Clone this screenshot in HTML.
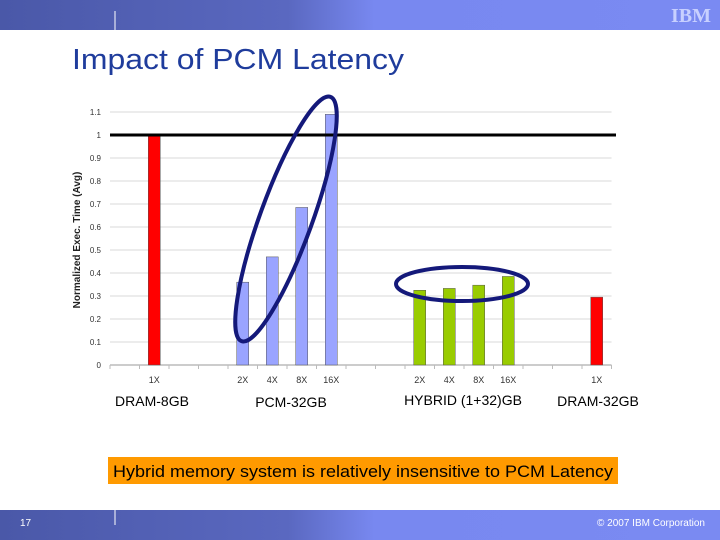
<!DOCTYPE html>
<html><head><meta charset="utf-8"><style>
body{margin:0;width:720px;height:540px;overflow:hidden;background:#fff;font-family:"Liberation Sans",sans-serif}
svg{display:block}
</style></head><body>
<svg id="s" width="720" height="540" xmlns="http://www.w3.org/2000/svg">
<defs>
<linearGradient id="hg" x1="0" x2="1"><stop offset="0" stop-color="#4a58a8"/><stop offset="0.4" stop-color="#5a68c0"/><stop offset="0.52" stop-color="#7888f0"/><stop offset="1" stop-color="#7a8af2"/></linearGradient>
</defs>
<rect x="0" y="0" width="720" height="30" fill="url(#hg)"/>
<line x1="115" y1="11" x2="115" y2="30" stroke="#fff" stroke-width="1"/>
<text x="691" y="22" font-size="20" font-weight="bold" fill="#c8d0ff" text-anchor="middle" font-family="Liberation Serif,serif">IBM</text>
<text x="72" y="69" font-size="29" fill="#1f3c9c" textLength="332" lengthAdjust="spacingAndGlyphs">Impact of PCM Latency</text>
<g id="chart"></g>
<text x="152" y="406" font-size="14" text-anchor="middle">DRAM-8GB</text>
<text x="291" y="407" font-size="14" text-anchor="middle">PCM-32GB</text>
<text x="463" y="405" font-size="14" text-anchor="middle">HYBRID (1+32)GB</text>
<text x="598" y="406" font-size="14" text-anchor="middle">DRAM-32GB</text>
<rect x="108" y="457" width="510" height="27" fill="#ff9a00"/>
<text x="113" y="477" font-size="17" fill="#000" textLength="500" lengthAdjust="spacingAndGlyphs">Hybrid memory system is relatively insensitive to PCM Latency</text>
<rect x="0" y="510" width="720" height="30" fill="url(#hg)"/>
<line x1="115" y1="510" x2="115" y2="525" stroke="#fff"/>
<text x="20" y="526" font-size="10" fill="#fff">17</text>
<text x="705" y="526" font-size="10" fill="#fff" text-anchor="end">© 2007 IBM Corporation</text>
</svg>
<script>
const slotLabels=["","1X","","","2X","4X","8X","16X","","","2X","4X","8X","16X","","","1X"];
const barValues=[null,1.0,null,null,0.36,0.47,0.685,1.09,null,null,0.325,0.333,0.347,0.385,null,null,0.295];
const barGroups=["","dram","","","pcm","pcm","pcm","pcm","","","hyb","hyb","hyb","hyb","","","dram"];
const yTicks=[0,0.1,0.2,0.3,0.4,0.5,0.6,0.7,0.8,0.9,1,1.1];
const yTickLabels=["0","0.1","0.2","0.3","0.4","0.5","0.6","0.7","0.8","0.9","1","1.1"];
const NS="http://www.w3.org/2000/svg",g=document.getElementById('chart');
const X0=110,SW=29.5,Y0=365,YS=230;
const x=i=>X0+SW*i, y=v=>Y0-v*YS;
function mk(t,a){const e=document.createElementNS(NS,t);for(const k in a)e.setAttribute(k,a[k]);g.appendChild(e);return e;}
yTicks.forEach((v,i)=>{
 if(v>0&&v!==1){const l=mk('line',{x1:X0,x2:x(17),y1:y(v),y2:y(v),stroke:'#d8d8d8'});
 
 }
 const t=mk('text',{x:101,y:y(v)+3,'font-size':8,'text-anchor':'end',fill:'#333'});t.textContent=yTickLabels[i];
 
 
});
const ax=mk('line',{x1:X0,x2:x(17),y1:Y0,y2:Y0,stroke:'#999'});


for(let i=0;i<=17;i++){const tk=mk('line',{x1:x(i),x2:x(i),y1:Y0,y2:Y0+4,stroke:'#bbb'});
 
 }
const col={dram:'#ff0000',pcm:'#9aa4ff',hyb:'#99cc00'};
barValues.forEach((v,i)=>{
 if(v==null)return;
 const b=mk('rect',{x:x(i)+SW/2-6,y:y(v),width:12,height:v*YS,fill:col[barGroups[i]],stroke:'#555','stroke-width':0.5});
 
 
});
slotLabels.forEach((s,i)=>{if(!s)return;
 const t=mk('text',{x:x(i)+SW/2,y:383,'font-size':9,'text-anchor':'middle',fill:'#333'});t.textContent=s;
 
 });
const ref=mk('line',{x1:X0,x2:616,y1:y(1),y2:y(1),stroke:'#000','stroke-width':3});


const yt=mk('text',{transform:'translate(80,240) rotate(-90)','font-size':10,'font-weight':'bold','text-anchor':'middle',fill:'#222'});
yt.textContent='Normalized Exec. Time (Avg)';


const e1=mk('ellipse',{cx:286,cy:219,rx:130,ry:26,transform:'rotate(-70 286 219)',fill:'none',stroke:'#14197a','stroke-width':4});


const e2=mk('ellipse',{cx:462,cy:284,rx:66,ry:17,fill:'none',stroke:'#14197a','stroke-width':4});


</script>
</body></html>
